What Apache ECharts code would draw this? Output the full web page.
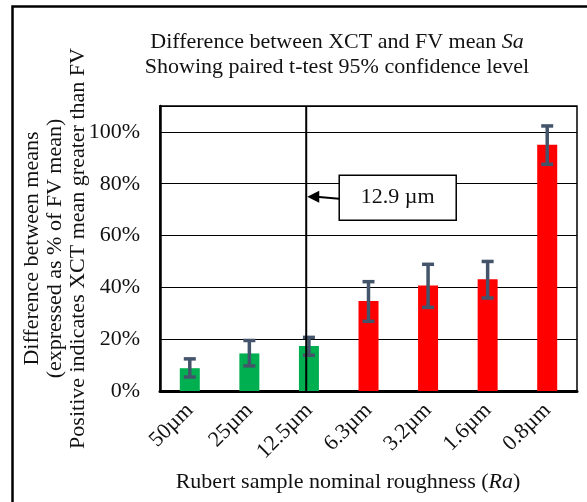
<!DOCTYPE html>
<html>
<head>
<meta charset="utf-8">
<script src="https://cdn.jsdelivr.net/npm/echarts@6/dist/echarts.min.js"></script>
<style>
html,body{margin:0;padding:0;background:#fff;}
#c{width:587px;height:502px;}
</style>
</head>
<body>
<div id="c"></div>
<script>
// ---- data ----
const categories = ['50µm', '25µm', '12.5µm', '6.3µm', '3.2µm', '1.6µm', '0.8µm'];
const nominalRa = [50, 25, 12.5, 6.3, 3.2, 1.6, 0.8];
const meanDiff = [8.8, 14.5, 17.4, 34.7, 40.7, 43.1, 95.0];
const ciLow = [5.4, 9.7, 13.8, 26.9, 32.3, 35.9, 87.5];
const ciHigh = [12.4, 19.5, 20.7, 42.2, 48.9, 50.0, 102.3];
const aboveThreshold = [false, false, false, true, true, true, true];
const thresholdRa = 12.9;
const thresholdLabel = '12.9 µm';
const calloutLevel = 75;
const yMin = 0, yMax = 110, yStep = 20;

// ---- derived ----
function raToIndex(v) {
  for (let i = 0; i < nominalRa.length - 1; i++) {
    const a = nominalRa[i], b = nominalRa[i + 1];
    if (v <= a && v >= b) return i + Math.log(a / v) / Math.log(a / b);
  }
  return 0;
}
const thresholdIdx = raToIndex(thresholdRa);

const FONT = 'Liberation Serif';
const TXT = '#111';
const GREEN = '#00B050', RED = '#FF0000', ERR = '#44546A';

const chart = echarts.init(document.getElementById('c'));
const option = {
  backgroundColor: '#fff',
  animation: false,
  title: {
    text: 'Difference between XCT and FV mean {i|Sa}\nShowing paired t-test 95% confidence level',
    left: 332, top: 25, textAlign: 'center',
    textStyle: {
      fontFamily: FONT, fontSize: 22, fontWeight: 'normal', color: TXT, lineHeight: 25,
      rich: { i: { fontFamily: FONT, fontSize: 22, fontStyle: 'italic', color: TXT } }
    }
  },
  grid: { left: 160, right: 10, top: 106, bottom: 111, show: true, borderColor: '#000', borderWidth: 1.5 },
  xAxis: [{
    type: 'category', data: categories,
    axisLine: { lineStyle: { color: '#000', width: 3 } },
    axisTick: { show: false },
    axisLabel: { rotate: 45, margin: 16, fontFamily: FONT, fontSize: 22, color: TXT }
  }, {
    type: 'value', min: -0.5, max: categories.length - 0.5, show: false
  }],
  yAxis: {
    type: 'value', min: yMin, max: yMax, interval: yStep,
    axisLine: { show: true, onZero: false, lineStyle: { color: '#000', width: 2.5 } },
    axisTick: { show: false },
    splitLine: { lineStyle: { color: '#000', width: 1.2 } },
    axisLabel: { formatter: '{value}%', showMaxLabel: false, margin: 20, fontFamily: FONT, fontSize: 22, color: TXT },
    name: 'Difference between means\n(expressed as % of FV mean)\nPositive indicates XCT mean greater than FV',
    nameLocation: 'middle', nameRotate: 90, nameGap: 70, nameMoveOverlap: false,
    nameTextStyle: { fontFamily: FONT, fontSize: 22, color: TXT, lineHeight: 23 }
  },
  series: [{
    type: 'bar', barWidth: 20,
    data: meanDiff.map((v, i) => ({ value: v, itemStyle: { color: aboveThreshold[i] ? RED : GREEN } })),
    z: 2
  }, {
    type: 'custom',
    data: categories.map((c, i) => [i, ciLow[i], ciHigh[i]]),
    renderItem: function (params, api) {
      const lo = api.coord([api.value(0), api.value(1)]);
      const hi = api.coord([api.value(0), api.value(2)]);
      const w = 6;
      const st = { stroke: ERR, lineWidth: 3.5 };
      return { type: 'group', children: [
        { type: 'line', shape: { x1: lo[0], y1: lo[1], x2: hi[0], y2: hi[1] }, style: st },
        { type: 'line', shape: { x1: lo[0] - w, y1: lo[1], x2: lo[0] + w, y2: lo[1] }, style: st },
        { type: 'line', shape: { x1: hi[0] - w, y1: hi[1], x2: hi[0] + w, y2: hi[1] }, style: st }
      ] };
    },
    z: 3
  }, {
    type: 'line', xAxisIndex: 1, symbol: 'none',
    data: [[thresholdIdx, yMin], [thresholdIdx, yMax]],
    lineStyle: { color: '#000', width: 2 }, z: 4
  }]
};
chart.setOption(option);

const p = chart.convertToPixel({ xAxisIndex: 1, yAxisIndex: 0 }, [thresholdIdx, calloutLevel]);
const bx = p[0] + 33, bw = 117, bh = 45;
chart.setOption({
  graphic: [
    { type: 'rect', left: 10, top: 4, shape: { x: 0, y: 0, width: 620, height: 530 },
      style: { fill: 'none', stroke: '#000', lineWidth: 2.5 }, z: 0, silent: true },
    { type: 'line', shape: { x1: bx, y1: p[1] + 2, x2: p[0] + 10, y2: p[1] }, style: { stroke: '#000', lineWidth: 2 }, z: 10 },
    { type: 'polygon', shape: { points: [[p[0] + 1, p[1]], [p[0] + 13, p[1] - 6], [p[0] + 13, p[1] + 6]] }, style: { fill: '#000' }, z: 10 },
    { type: 'rect', shape: { x: bx, y: p[1] - bh / 2 + 1, width: bw, height: bh }, style: { fill: '#fff', stroke: '#000', lineWidth: 1.5 }, z: 10 },
    { type: 'text', x: bx + bw / 2, y: p[1] + 1, style: { text: thresholdLabel, fontFamily: FONT, fontSize: 22, fill: TXT, align: 'center', verticalAlign: 'middle' }, z: 11 },
    { type: 'text', x: 348, y: 482, style: { text: 'Rubert sample nominal roughness ({i|Ra})', fontFamily: FONT, fontSize: 22, fill: TXT, align: 'center', verticalAlign: 'middle',
      rich: { i: { fontFamily: FONT, fontSize: 22, fontStyle: 'italic', fill: TXT } } }, z: 11 }
  ]
});
</script>
</body>
</html>
